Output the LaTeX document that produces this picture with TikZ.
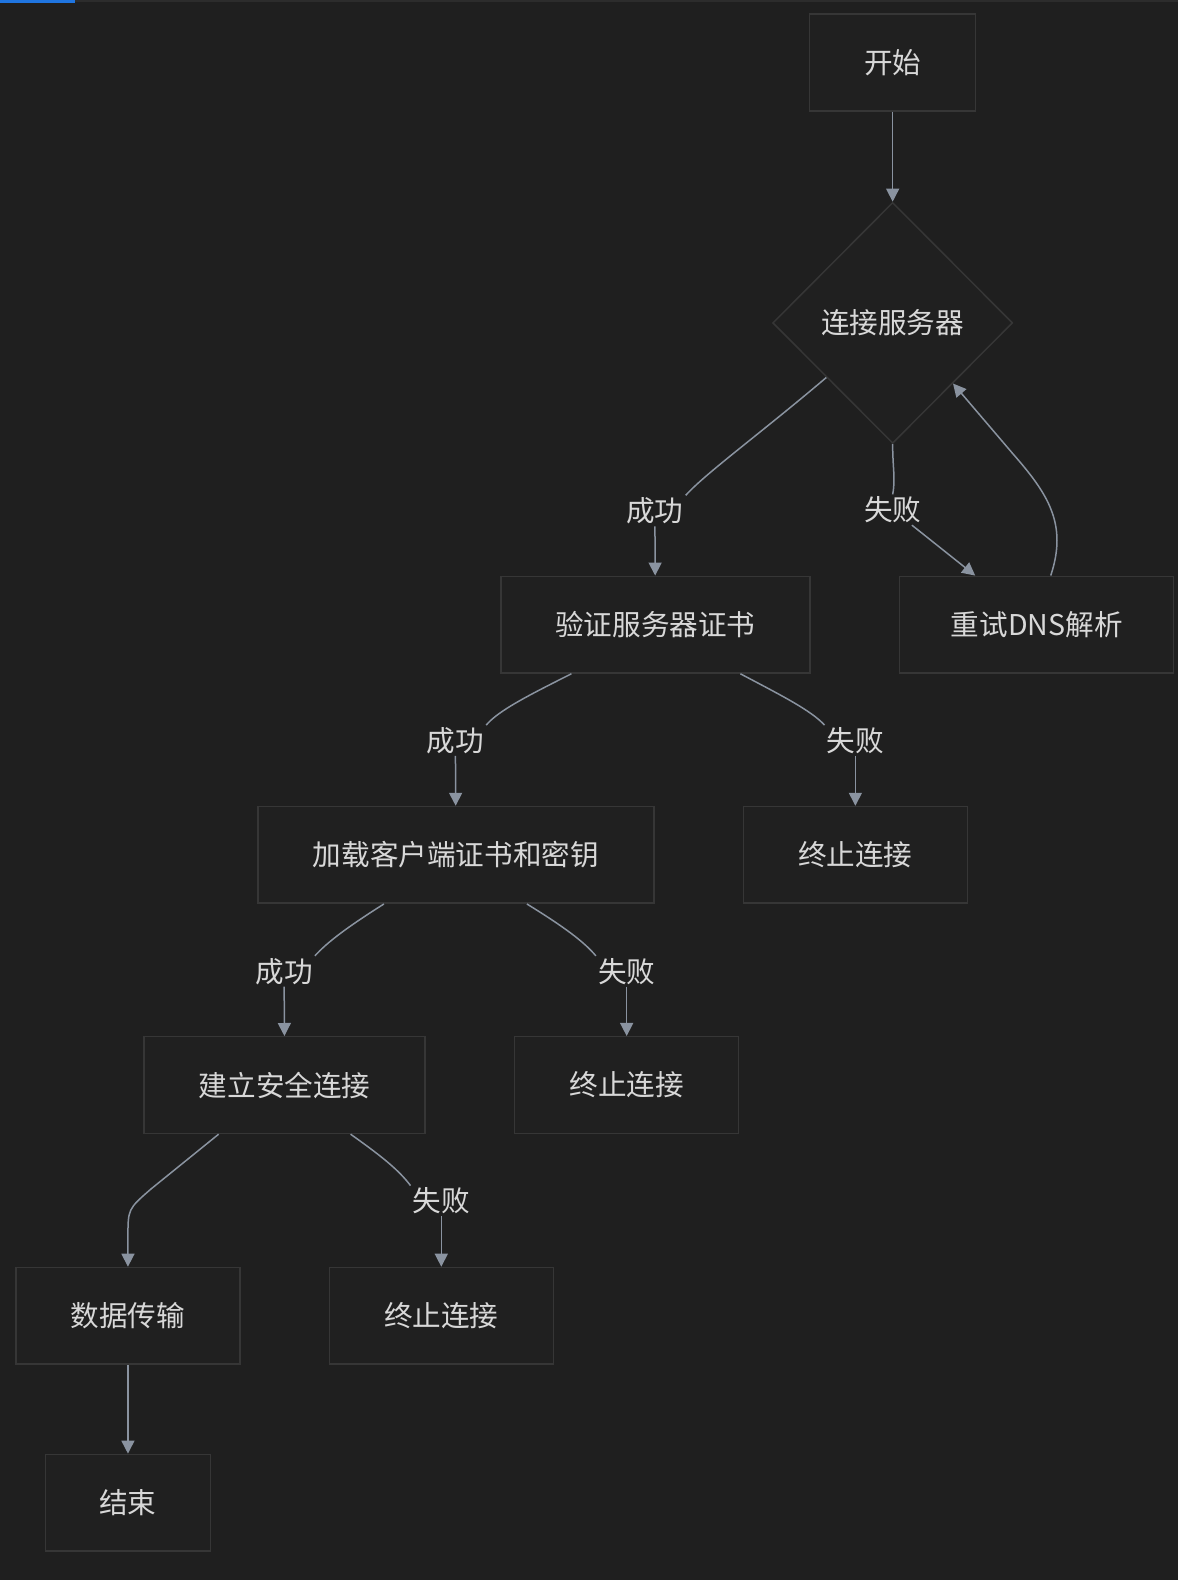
\documentclass[tikz,border=0pt]{standalone}
\usepackage{fontspec}
\newfontfamily\cjk{Noto Sans CJK SC}
\usetikzlibrary{arrows.meta,shapes.geometric}
\definecolor{bg}{HTML}{1F1F1F}
\definecolor{frame}{HTML}{2C2C2C}
\definecolor{nodeline}{HTML}{363636}
\definecolor{nodefill}{HTML}{202020}
\definecolor{edgec}{HTML}{8A93A0}
\definecolor{txt}{HTML}{D8D8D8}
\definecolor{bluebar}{HTML}{1F75E0}
\begin{document}
\begin{tikzpicture}[x=1.0075pt,y=-1.0075pt,
  box/.style={draw=nodeline,fill=nodefill,line width=1.5pt,minimum width=#1,minimum height=96.7pt,inner sep=0pt,text=txt,font=\cjk\fontsize{28.6}{31}\selectfont},
  dia/.style={diamond,shape aspect=1,draw=nodeline,fill=nodefill,line width=1.5pt,minimum width=240pt,minimum height=241pt,inner sep=0pt,text=txt,font=\cjk\fontsize{28.6}{31}\selectfont},
  lbl/.style={fill=bg,text=txt,inner sep=2pt,font=\cjk\fontsize{28.6}{31}\selectfont},
  ln/.style={draw=edgec,line width=1.5pt},
  arr/.style={ln,-{Triangle[length=13pt,width=13pt]}}
]
\useasboundingbox (0pt,0pt) rectangle (1178pt,-1580pt);
\fill[bg] (0pt,0pt) rectangle (1178pt,-1580pt);
\fill[frame] (0,0) rectangle (1178,1.5);
\fill[bluebar] (0,0) rectangle (74,2.5);

% nodes
\node[box=166pt] (start) at (886,62) {开始};
\node[dia] (conn) at (886,320.5) {连接服务器};
\node[box=309pt] (verify) at (650.5,620) {验证服务器证书};
\node[box=274pt] (retry) at (1029,620) {重试DNS解析};
\node[box=396pt] (load) at (452.5,848.5) {加载客户端证书和密钥};
\node[box=224pt] (stopA) at (849,848.5) {终止连接};
\node[box=281pt] (secure) at (282.5,1077) {建立安全连接};
\node[box=224pt] (stopB) at (622,1077) {终止连接};
\node[box=224pt] (data) at (127,1306) {数据传输};
\node[box=224pt] (stopC) at (438,1306) {终止连接};
\node[box=165pt] (end) at (127,1491.5) {结束};

% labels
\node[lbl] (ok1) at (650,507) {成功};
\node[lbl] (no1) at (886,506) {失败};
\node[lbl] (ok2) at (452,735) {成功};
\node[lbl] (no2) at (849,735) {失败};
\node[lbl] (ok3) at (282,964) {成功};
\node[lbl] (no3) at (622,964) {失败};
\node[lbl] (no4) at (438,1192) {失败};

% edges
\draw[arr] (start) -- (conn);

\draw[ln] ([xshift=-6pt,yshift=6pt]conn.south west) .. controls (755,430) and (700,470) .. (ok1.north east);
\draw[arr] (ok1) -- (verify);
\draw[ln] (conn.south) .. controls (886,465) and (889,475) .. (no1.north);
\draw[arr] (no1) -- (retry);
\draw[arr] ([xshift=14pt]retry.north) .. controls (1060,520) and (1040,490) .. (1005,450) -- (conn.south east);

\draw[ln] ([xshift=-84pt]verify.south) .. controls (525,690) and (495,705) .. (ok2.north east);
\draw[arr] (ok2) -- (load);
\draw[ln] ([xshift=85pt]verify.south) .. controls (775,690) and (805,705) .. (no2.north west);
\draw[arr] (no2) -- (stopA);

\draw[ln] ([xshift=-72pt]load.south) .. controls (345,920) and (325,935) .. (ok3.north east);
\draw[arr] (ok3) -- (secure);
\draw[ln] ([xshift=71pt]load.south) .. controls (560,920) and (580,935) .. (no3.north west);
\draw[arr] (no3) -- (stopB);

\draw[arr] ([xshift=-66pt]secure.south) -- (150,1180) .. controls (127,1200) .. (127,1228) -- (data.north);
\draw[ln] ([xshift=66pt]secure.south) .. controls (375,1145) and (395,1160) .. (no4.north west);
\draw[arr] (no4) -- (stopC);

\draw[arr] (data) -- (end);
\end{tikzpicture}
\end{document}
